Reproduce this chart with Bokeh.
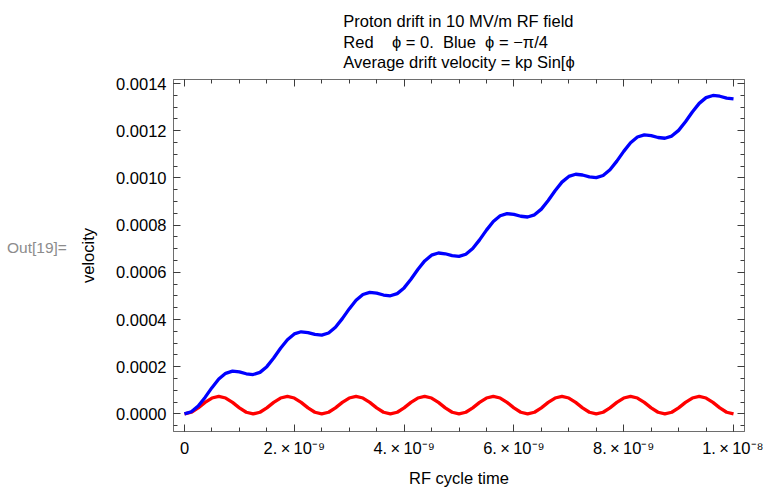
from bokeh.plotting import figure
from bokeh.models import (Range1d, FixedTicker, LinearAxis, ColumnDataSource, Div,
                          CustomLabelingPolicy)
from bokeh.layouts import row
from bokeh.embed import file_html
from bokeh.resources import INLINE

# ---- data ----
time_ns = [
    0.0, 0.125, 0.25, 0.375, 0.5, 0.625, 0.75, 0.875, 1.0, 1.125,
    1.25, 1.375, 1.5, 1.625, 1.75, 1.875, 2.0, 2.125, 2.25, 2.375,
    2.5, 2.625, 2.75, 2.875, 3.0, 3.125, 3.25, 3.375, 3.5, 3.625,
    3.75, 3.875, 4.0, 4.125, 4.25, 4.375, 4.5, 4.625, 4.75, 4.875,
    5.0, 5.125, 5.25, 5.375, 5.5, 5.625, 5.75, 5.875, 6.0, 6.125,
    6.25, 6.375, 6.5, 6.625, 6.75, 6.875, 7.0, 7.125, 7.25, 7.375,
    7.5, 7.625, 7.75, 7.875, 8.0, 8.125, 8.25, 8.375, 8.5, 8.625,
    8.75, 8.875, 9.0, 9.125, 9.25, 9.375, 9.5, 9.625, 9.75, 9.875,
    10.0,
]

red_velocity = [
    0.0, 7.12e-6, 2.574e-5, 4.876e-5, 6.738e-5, 7.45e-5, 6.738e-5, 4.876e-5, 2.574e-5, 7.12e-6,
    0.0, 7.12e-6, 2.574e-5, 4.876e-5, 6.738e-5, 7.45e-5, 6.738e-5, 4.876e-5, 2.574e-5, 7.12e-6,
    0.0, 7.12e-6, 2.574e-5, 4.876e-5, 6.738e-5, 7.45e-5, 6.738e-5, 4.876e-5, 2.574e-5, 7.12e-6,
    0.0, 7.12e-6, 2.574e-5, 4.876e-5, 6.738e-5, 7.45e-5, 6.738e-5, 4.876e-5, 2.574e-5, 7.12e-6,
    0.0, 7.12e-6, 2.574e-5, 4.876e-5, 6.738e-5, 7.45e-5, 6.738e-5, 4.876e-5, 2.574e-5, 7.12e-6,
    0.0, 7.12e-6, 2.574e-5, 4.876e-5, 6.738e-5, 7.45e-5, 6.738e-5, 4.876e-5, 2.574e-5, 7.12e-6,
    0.0, 7.12e-6, 2.574e-5, 4.876e-5, 6.738e-5, 7.45e-5, 6.738e-5, 4.876e-5, 2.574e-5, 7.12e-6,
    0.0, 7.12e-6, 2.574e-5, 4.876e-5, 6.738e-5, 7.45e-5, 6.738e-5, 4.876e-5, 2.574e-5, 7.12e-6,
    0.0,
]

blue_velocity = [
    0.0, 0.0000091, 0.0000334, 0.0000699, 0.0001112, 0.0001478, 0.0001720, 0.0001811, 0.0001779, 0.0001701,
    0.0001669, 0.0001760, 0.0002003, 0.0002368, 0.0002781, 0.0003146, 0.0003389, 0.0003480, 0.0003448, 0.0003369,
    0.0003338, 0.0003428, 0.0003671, 0.0004037, 0.0004449, 0.0004815, 0.0005058, 0.0005149, 0.0005117, 0.0005038,
    0.0005006, 0.0005097, 0.0005340, 0.0005706, 0.0006118, 0.0006484, 0.0006727, 0.0006818, 0.0006786, 0.0006707,
    0.0006675, 0.0006766, 0.0007009, 0.0007374, 0.0007787, 0.0008153, 0.0008395, 0.0008486, 0.0008454, 0.0008376,
    0.0008344, 0.0008435, 0.0008678, 0.0009043, 0.0009456, 0.0009821, 0.0010064, 0.0010155, 0.0010123, 0.0010044,
    0.0010013, 0.0010103, 0.0010346, 0.0010712, 0.0011124, 0.0011490, 0.0011733, 0.0011824, 0.0011792, 0.0011713,
    0.0011681, 0.0011772, 0.0012015, 0.0012381, 0.0012793, 0.0013159, 0.0013402, 0.0013493, 0.0013461, 0.0013382,
    0.0013350,
]

TS = "\u2009"  # thin space
x_major_ticks = [0.0, 2e-9, 4e-9, 6e-9, 8e-9, 1e-8]
x_tick_labels = ["0", "2." + TS + "×" + TS + "10⁻⁹", "4." + TS + "×" + TS + "10⁻⁹",
                 "6." + TS + "×" + TS + "10⁻⁹", "8." + TS + "×" + TS + "10⁻⁹",
                 "1." + TS + "×" + TS + "10⁻⁸"]
y_major_ticks = [0.0, 0.0002, 0.0004, 0.0006, 0.0008, 0.0010, 0.0012, 0.0014]
y_tick_labels = ["0.0000", "0.0002", "0.0004", "0.0006", "0.0008", "0.0010", "0.0012", "0.0014"]
x_minor_ticks = [k * 0.5e-9 for k in range(0, 21)]
y_minor_ticks = [-0.00005 + k * 0.00005 for k in range(0, 30)]

NB = "\u00a0"
title_lines = [
    "Proton drift in 10 MV/m RF field",
    "Red" + NB * 3 + " ϕ = 0." + NB + " Blue" + NB + " ϕ = −π/4",
    "Average drift velocity = kp Sin[ϕ",
]
out_prompt = "Out[19]="

# ---- styling ----
FONT = "Liberation Sans"
FS = "16.5px"
FRAME = "#6e6e6e"
TICK = "#3c3c3c"
DIV_W = 75
TOTAL_W, TOTAL_H = 763, 489

time_s = [t * 1e-9 for t in time_ns]
src = ColumnDataSource(dict(t=time_s, red=red_velocity, blue=blue_velocity))

p = figure(
    width=TOTAL_W - DIV_W, height=TOTAL_H,
    output_backend="svg", toolbar_location=None,
    x_range=Range1d(-0.2e-9, 10.2e-9),
    y_range=Range1d(-0.0000745, 0.001417),
    min_border_left=98, min_border_right=19,
    min_border_top=79, min_border_bottom=57,
    x_axis_label="RF cycle time", y_axis_label="velocity",
    margin=0,
)
p.background_fill_color = "white"
p.border_fill_color = "white"
p.grid.visible = False
p.outline_line_color = FRAME

p.title.text = "\n".join(title_lines)
p.title.align = "center"
p.title.text_font = FONT
p.title.text_font_size = FS
p.title.text_font_style = "normal"
p.title.text_color = "black"
p.title.text_line_height = 1.14
p.title.standoff = 16

xt = FixedTicker(ticks=x_major_ticks, minor_ticks=x_minor_ticks)
yt = FixedTicker(ticks=y_major_ticks, minor_ticks=y_minor_ticks)


def style_axis(ax):
    ax.axis_line_color = FRAME
    ax.major_tick_line_color = TICK
    ax.minor_tick_line_color = TICK
    ax.major_tick_in = 7
    ax.major_tick_out = 0
    ax.minor_tick_in = 4
    ax.minor_tick_out = 0
    ax.major_label_text_font = FONT
    ax.major_label_text_font_size = FS
    ax.major_label_text_color = "black"
    ax.axis_label_text_font = FONT
    ax.axis_label_text_font_size = FS
    ax.axis_label_text_font_style = "normal"
    ax.axis_label_text_color = "black"


xa = p.xaxis[0]
xa.ticker = xt
style_axis(xa)
xa.major_label_overrides = {k: v for k, v in zip(x_major_ticks, x_tick_labels)}
xa.major_label_standoff = 7
xa.axis_label_standoff = 9

ya = p.yaxis[0]
ya.ticker = yt
style_axis(ya)
ya.major_label_overrides = {k: v for k, v in zip(y_major_ticks, y_tick_labels)}
ya.major_label_standoff = 7
ya.axis_label_standoff = 16

no_labels = CustomLabelingPolicy(code="""
    if (typeof indices.clear === "function") { indices.clear(); return indices }
    for (const i of Array.from(indices)) indices.unset(i)
    return indices
""")

top_ax = LinearAxis(ticker=xt)
style_axis(top_ax)
top_ax.major_label_text_font_size = "0px"
top_ax.major_label_standoff = 0
top_ax.axis_label_standoff = 0
top_ax.major_label_policy = no_labels
p.add_layout(top_ax, "above")

right_ax = LinearAxis(ticker=yt)
style_axis(right_ax)
right_ax.major_label_text_font_size = "0px"
right_ax.major_label_standoff = 0
right_ax.axis_label_standoff = 0
right_ax.major_label_policy = no_labels
p.add_layout(right_ax, "right")

p.line("t", "red", source=src, line_color="#ff0000", line_width=3.3)
p.line("t", "blue", source=src, line_color="#0000ff", line_width=3.3)

prompt = Div(
    text=('<div style="padding:239px 0 0 7px; font-family:\'Liberation Sans\'; '
          'font-size:15.5px; line-height:18px; color:#8c8c8c; white-space:nowrap;">'
          + out_prompt + '</div>'),
    width=DIV_W, height=TOTAL_H, margin=0,
)

layout = row(prompt, p, spacing=0, margin=0)

open("out.html", "w").write(file_html(layout, INLINE))
